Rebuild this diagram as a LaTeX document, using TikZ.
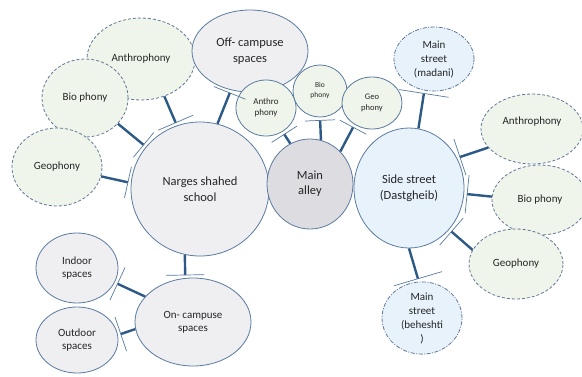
\documentclass[tikz,border=0pt]{standalone}
\usepackage{fontspec}
\setmainfont{Carlito}
\usepackage{tikz}
\usetikzlibrary{calc,shapes.geometric}
\definecolor{rimblue}{HTML}{5A7AA0}
\definecolor{linkblue}{HTML}{2D5986}
\definecolor{softgray}{HTML}{EFEFF2}
\definecolor{alleygray}{HTML}{DDDCE1}
\definecolor{paleblue}{HTML}{E7F2FB}
\definecolor{palegreen}{HTML}{EFF5EA}
\definecolor{dashgray}{HTML}{62789A}
\definecolor{inkgray}{HTML}{262626}
\newcommand{\barlink}[3]{%
  \coordinate (tip) at ($(#2)!3pt!(#1)$);
  \draw[link] (#1) -- (tip);
  \draw[bar] ($(tip)!#3!90:(#1)$) -- ($(tip)!#3!-90:(#1)$);}

\begin{document}
\begin{tikzpicture}[x=1pt, y=-1pt,
  every node/.style={text=inkgray, align=center, inner sep=0pt},
  place/.style={ellipse, draw=rimblue, line width=0.8pt, fill=softgray, font=\fontsize{11}{13}\selectfont},
  sound/.style={ellipse, draw=dashgray, line width=0.8pt, dash pattern=on 3pt off 2pt, fill=palegreen, font=\fontsize{11}{13}\selectfont},
  street/.style={ellipse, draw=dashgray, line width=0.8pt, dash pattern=on 4pt off 1.5pt on 1pt off 1.5pt, fill=paleblue, font=\fontsize{11}{14}\selectfont},
  small/.style={ellipse, draw=rimblue, line width=0.8pt, fill=palegreen},
  link/.style={draw=linkblue, line width=2.4pt},
  bar/.style={draw=linkblue!80, line width=0.7pt}]
  \useasboundingbox (0,0) rectangle (582,376);

  \node[sound, minimum width=108pt, minimum height=82pt] (anthL) at (141,59) {Anthrophony};
  \node[sound, minimum width=86pt, minimum height=78pt] (bioL) at (85,98) {Bio phony};
  \node[sound, minimum width=90pt, minimum height=78pt] (geoL) at (57,167) {Geophony};
  \node[place, minimum width=116pt, minimum height=82pt, font=\fontsize{12.5}{15.5}\selectfont] (offcamp) at (250,51) {Off- campuse\\spaces};
  \node[place, minimum width=138pt, minimum height=134pt, font=\fontsize{12.5}{15.5}\selectfont] (school) at (200,189) {Narges shahed\\school};
  \node[small, minimum width=60pt, minimum height=56pt, font=\fontsize{9}{11}\selectfont] (anthS) at (266,108) {Anthro\\phony};
  \node[small, minimum width=54pt, minimum height=52pt, font=\fontsize{7.5}{10}\selectfont] (bioS) at (320,91) {Bio\\phony};
  \node[small, minimum width=60pt, minimum height=52pt, font=\fontsize{8.5}{10.5}\selectfont] (geoS) at (372,103) {Geo\\phony};
  \node[place, fill=alleygray, minimum width=86pt, minimum height=90pt, font=\fontsize{12.5}{15}\selectfont] (alley) at (310,184) {Main\\alley};
  \node[place, fill=paleblue, minimum width=110pt, minimum height=120pt, font=\fontsize{12.5}{15.5}\selectfont] (side) at (409,188) {Side street\\(Dastgheib)};
  \node[street, minimum width=80pt, minimum height=64pt] (madani) at (434,59) {Main\\street\\(madani)};
  \node[sound, minimum width=102pt, minimum height=70pt] (anthR) at (532,129) {\raisebox{0pt}[\height][\dimexpr\depth+14pt]{Anthrophony}};
  \node[sound, minimum width=96pt, minimum height=70pt] (bioR) at (540,200) {Bio phony};
  \node[sound, minimum width=94pt, minimum height=70pt] (geoR) at (516,264) {Geophony};
  \node[street, minimum width=80pt, minimum height=66pt] (beheshti) at (422,318) {Main\\street\\(beheshti\\)};
  \node[place, minimum width=116pt, minimum height=88pt] (oncamp) at (193,322) {On- campuse\\spaces};
  \node[place, minimum width=82pt, minimum height=70pt] (indoor) at (77,268) {Indoor\\spaces};
  \node[place, minimum width=82pt, minimum height=66pt] (outdoor) at (77,340) {Outdoor\\spaces};

  \barlink{anthL.-58}{school.110}{19pt}
  \barlink{bioL.-38}{school.142}{16pt}
  \barlink{geoL.-12}{school.175}{16pt}
  \barlink{school.75}{offcamp.-116}{17pt}
  \barlink{alley.116}{anthS.-55}{15pt}
  \barlink{alley.76}{bioS.-90}{15pt}
  \barlink{alley.47}{geoS.-129}{15pt}
  \barlink{side.81}{madani.-107}{25pt}
  \barlink{anthR.-157}{side.32}{19pt}
  \barlink{bioR.176}{side.-6}{19pt}
  \barlink{geoR.162}{side.-46}{18pt}
  \barlink{side.-90}{beheshti.95}{25pt}
  \barlink{school.-103}{oncamp.100}{19pt}
  \barlink{oncamp.152}{indoor.-21}{18pt}
  \barlink{oncamp.-173}{outdoor.7}{18pt}
\end{tikzpicture}
\end{document}
